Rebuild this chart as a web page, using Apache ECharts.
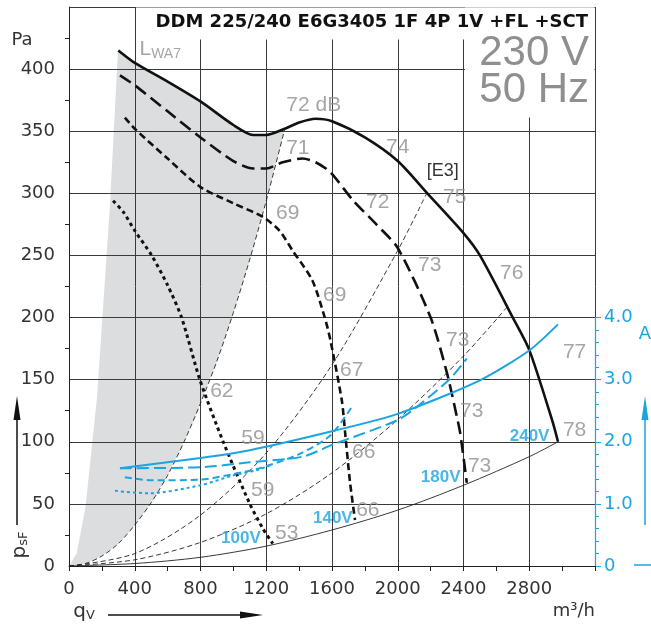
<!DOCTYPE html>
<html><head><meta charset="utf-8">
<script src="https://cdn.jsdelivr.net/npm/echarts@6/dist/echarts.min.js"></script>
<style>html,body{margin:0;padding:0;background:#fff}#c{width:651px;height:627px}</style>
</head><body><div id="c"></div>
<script>
// ---------- data ----------
const xTicks = [0, 400, 800, 1200, 1600, 2000, 2400, 2800];
const yTicks = [0, 50, 100, 150, 200, 250, 300, 350, 400];
const ampTicks = [0, 1.0, 2.0, 3.0, 4.0];

// fan curves p_sF [Pa] vs q_V [m3/h]
const curve240V = [[300,415],[400,405],[600,390],[800,374],[1000,355],[1120,347],[1200,347],[1313,352],[1400,357],[1500,360],[1600,358],[1800,345],[2000,326],[2180,300],[2400,268],[2500,250],[2700,200],[2800,174],[2940,117],[2975,100]];
const curve180V = [[310,395],[400,387],[600,366],[800,345],[1000,326],[1120,320],[1200,320],[1300,325],[1420,328],[1500,325],[1590,317],[1730,294],[1870,275],[2000,256],[2200,200],[2300,155],[2360,120],[2380,107],[2420,67]];
const curve140V = [[340,361],[400,352],[600,328],[800,305],[1000,292],[1180,281],[1280,270],[1360,254],[1480,230],[1556,200],[1590,182],[1660,133],[1680,107],[1710,67],[1740,37]];
const curve100V = [[268,294],[330,285],[400,270],[503,250],[600,226],[685,200],[796,150],[938,100],[1100,50],[1180,30],[1240,18]];

// current curves [A]
const amp240V = [[310,1.575],[800,1.74],[1100,1.865],[1600,2.17],[2000,2.45],[2500,2.99],[2800,3.47],[2975,3.89]];
const amp180V = [[310,1.575],[800,1.59],[1100,1.67],[1420,1.76],[1600,1.95],[2000,2.35],[2130,2.59],[2320,3.02],[2420,3.34]];
const amp140V = [[340,1.43],[500,1.38],[800,1.39],[1000,1.48],[1160,1.575],[1400,1.80],[1590,2.10],[1720,2.56]];
const amp100V = [[280,1.21],[490,1.17],[800,1.30],[1000,1.46],[1140,1.54],[1240,1.64]];

// system (throttle) curves
const sysA = [[0,0],[100,2],[200,8],[300,18],[400,33],[500,51],[600,73],[700,100],[800,131],[900,165],[1000,204],[1100,247],[1200,294],[1313,352]];
const sysB = [[0,0],[400,10],[800,41],[1200,91],[1600,162],[2000,254],[2176,300]];
const sysC = [[0,0],[400,5],[800,19],[1200,42],[1600,75],[2000,118],[2400,169],[2662,208]];
const sysD = [[0,0],[400,2],[800,7],[1200,16],[1600,29],[2000,45],[2400,65],[2800,88],[2975,100]];

// L_WA7 region left limit
const lwaEdge = [[0,0],[47,10],[100,47],[170,135],[249,290],[298,415]];

// sound level annotations [q, p, text]
const dbNotes = [
  [1489,371,'72 dB'],[1392,336,'71'],[1331,284,'69'],[930,141,'62'],[1119,103,'59'],[1179,61,'59'],[1325,26.5,'53'],
  [2000,337,'74'],[2347,297,'75'],[1878,293,'72'],[2195,242,'73'],[1617,218,'69'],[1720,158,'67'],
  [2693,236,'76'],[2365,182,'73'],[2450,125,'73'],[1793,92,'66'],[2498,80,'73'],[1818,45,'66'],
  [3076,172,'77'],[3076,109,'78']
];
const voltNotes = [[2802,104,'240V'],[2261,71.5,'180V'],[1605,38.6,'140V'],[1046,22.5,'100V']];

// ---------- chart ----------
const BLUE = '#1ba5e0';
const GRAY = '#8f8f8f';
const INK = '#222';
const chart = echarts.init(document.getElementById('c'), null, {renderer:'canvas'});

const G = {left:69, top:7, width:526, height:559};
const G2 = {left:69, top:7 + 559*5/9, width:526, height:559*4/9};

const grayPoly = lwaEdge.concat(curve240V.filter(p => p[0] > 300 && p[0] < 1313)).concat(sysA.slice().reverse());

function fan(data, dash, width) {
  return {type:'line', data, smooth:0.25, showSymbol:false, silent:true, z:5,
    lineStyle:{color:'#111', width:width||2.6, type:dash, cap:'butt'}};
}
function sys(data, dash) {
  return {type:'line', data, smooth:0.3, showSymbol:false, silent:true, z:3,
    lineStyle:{color:'#222', width:0.9, type:dash}};
}
function amp(data, dash) {
  return {type:'line', data, smooth:0.25, showSymbol:false, silent:true, z:6,
    xAxisIndex:1, yAxisIndex:1, lineStyle:{color:BLUE, width:2, type:dash, cap:'butt'}};
}

const option = {
  animation:false,
  grid:[Object.assign({}, G), Object.assign({}, G2)],
  xAxis:[{
    gridIndex:0, type:'value', min:0, max:3200, interval:400,
    axisLine:{show:true, onZero:false, lineStyle:{color:INK, width:1}},
    axisTick:{show:true, length:5, lineStyle:{color:INK}},
    minorTick:{show:true, splitNumber:2, length:5, lineStyle:{color:INK}},
    axisLabel:{fontFamily:'DejaVu Sans', fontSize:18, color:'#333', margin:14,
      formatter: v => xTicks.indexOf(v) >= 0 ? String(v) : ''},
    splitLine:{show:true, lineStyle:{color:'#3a3a3a', width:1}}
  },{
    gridIndex:1, type:'value', min:0, max:3200, show:false
  }],
  yAxis:[{
    gridIndex:0, type:'value', min:0, max:450, interval:50,
    axisLine:{show:true, onZero:false, lineStyle:{color:INK, width:1}},
    axisTick:{show:false},
    minorTick:{show:true, splitNumber:2, length:4, lineStyle:{color:INK}},
    axisLabel:{fontFamily:'DejaVu Sans', fontSize:18, color:'#333', margin:14,
      formatter: v => yTicks.indexOf(v) >= 0 ? String(v) : ''},
    splitLine:{show:true, lineStyle:{color:'#3a3a3a', width:1}}
  },{
    gridIndex:1, type:'value', min:0, max:4, interval:1, position:'right',
    axisLine:{show:true, onZero:false, lineStyle:{color:BLUE, width:1.2}},
    axisTick:{show:true, length:6, lineStyle:{color:BLUE}},
    minorTick:{show:true, splitNumber:5, length:4, lineStyle:{color:BLUE}},
    axisLabel:{fontFamily:'DejaVu Sans', fontSize:18, color:BLUE, margin:9,
      formatter: v => { const t = ampTicks.find(a => Math.abs(a - v) < 1e-6); return t === undefined ? '' : (t === 0 ? '0' : t.toFixed(1)); }},
    splitLine:{show:false}
  }],
  series:[
    {type:'custom', coordinateSystem:'cartesian2d', xAxisIndex:0, yAxisIndex:0, z:-1, silent:true,
      data:[[0,0]],
      renderItem:(params, api) => {
        const pts = grayPoly.map(p => api.coord(p));
        return {type:'polygon', shape:{points:pts}, style:{fill:'#dcdddf'}};
      }},
    sys(sysA, [5,3]), sys(sysB, [5,3]), sys(sysC, [5,3]), sys(sysD, 'solid'),
    fan(curve240V, 'solid', 2.6),
    fan(curve180V, [13,6], 2.6),
    fan(curve140V, [7,4], 2.6),
    fan(curve100V, [3.5,3.5], 3),
    amp(amp240V, 'solid'),
    amp(amp180V, [12,5]),
    amp(amp140V, [7,4]),
    amp(amp100V, [3,3]),
    {type:'scatter', data:dbNotes.map(d => ({value:[d[0],d[1]], name:d[2]})), symbolSize:0, silent:true, z:7,
      label:{show:true, position:'inside', formatter: p => p.name, color:GRAY, fontSize:21,
        fontFamily:'"Liberation Sans Narrow","Liberation Sans",sans-serif'}},
    {type:'scatter', data:voltNotes.map(d => ({value:[d[0],d[1]], name:d[2]})), symbolSize:0, silent:true, z:7,
      label:{show:true, position:'inside', formatter: p => p.name, color:BLUE, fontSize:17, fontWeight:'bold',
        fontFamily:'"Liberation Sans Narrow","Liberation Sans",sans-serif'}},
    {type:'scatter', data:[{value:[555,416], name:'LWA7'}], symbolSize:0, silent:true, z:7,
      label:{show:true, position:'inside', formatter:'{a|L}{b|WA7}',
        rich:{a:{color:GRAY, fontSize:21, fontFamily:'"Liberation Sans Narrow","Liberation Sans"'},
              b:{color:GRAY, fontSize:14, fontFamily:'"Liberation Sans Narrow","Liberation Sans"', padding:[10,0,0,0]}}}},
    {type:'scatter', data:[{value:[2274,318], name:'[E3]'}], symbolSize:0, silent:true, z:7,
      label:{show:true, position:'inside', formatter:'[E3]', color:'#000', fontSize:18,
        fontFamily:'"Liberation Sans Narrow","Liberation Sans",sans-serif'}}
  ],
  graphic:[
    {type:'rect', z:100, shape:{x:136, y:7.5, width:458.5, height:32}, style:{fill:'#fff'}},
    {type:'rect', z:100, shape:{x:465, y:7.5, width:129.5, height:110}, style:{fill:'#fff'}},
    {type:'text', z:101, x:588, y:22, style:{text:'DDM 225/240 E6G3405 1F 4P 1V +FL +SCT', fontFamily:'DejaVu Sans', fontWeight:'bold', fontSize:18, fill:'#111', align:'right', verticalAlign:'middle'}},
    {type:'text', z:101, x:589, y:53, style:{text:'230 V', fontFamily:'Liberation Sans', fontSize:42, fill:GRAY, align:'right', verticalAlign:'middle'}},
    {type:'text', z:101, x:589, y:90, style:{text:'50 Hz', fontFamily:'Liberation Sans', fontSize:42, fill:GRAY, align:'right', verticalAlign:'middle'}},
    {type:'text', z:101, x:22, y:40, style:{text:'Pa', fontFamily:'DejaVu Sans', fontSize:18, fill:'#333', align:'center', verticalAlign:'middle'}},
    {type:'text', z:101, x:20, y:545, rotation:Math.PI/2, style:{text:'{p|p}{s|sF}', align:'center', verticalAlign:'middle',
      rich:{p:{fontFamily:'DejaVu Sans', fontSize:20, fill:'#333'}, s:{fontFamily:'DejaVu Sans', fontSize:13, fill:'#333', padding:[8,0,0,0]}}}},
    {type:'line', z:101, shape:{x1:17, y1:525, x2:17, y2:410}, style:{stroke:'#111', lineWidth:1.5}},
    {type:'polygon', z:101, shape:{points:[[17,396],[13.5,420],[20.5,420]]}, style:{fill:'#111'}},
    {type:'text', z:101, x:84, y:612, style:{text:'{p|q}{s|V}', align:'center', verticalAlign:'middle',
      rich:{p:{fontFamily:'DejaVu Sans', fontSize:20, fill:'#333'}, s:{fontFamily:'DejaVu Sans', fontSize:13, fill:'#333', padding:[8,0,0,0]}}}},
    {type:'line', z:101, shape:{x1:108, y1:615, x2:245, y2:615}, style:{stroke:'#111', lineWidth:1.5}},
    {type:'polygon', z:101, shape:{points:[[263,615],[240,611.5],[240,618.5]]}, style:{fill:'#111'}},
    {type:'text', z:101, x:595, y:611, style:{text:'m³/h', fontFamily:'DejaVu Sans', fontSize:18, fill:'#333', align:'right', verticalAlign:'middle'}},
    {type:'text', z:101, x:645, y:334, style:{text:'A', fontFamily:'DejaVu Sans', fontSize:18, fill:BLUE, align:'center', verticalAlign:'middle'}},
    {type:'line', z:101, shape:{x1:645, y1:525, x2:645, y2:410}, style:{stroke:BLUE, lineWidth:1.5}},
    {type:'polygon', z:101, shape:{points:[[645,396],[641.5,420],[648.5,420]]}, style:{fill:BLUE}},
    {type:'line', z:101, shape:{x1:634, y1:565, x2:651, y2:565}, style:{stroke:BLUE, lineWidth:1.5}}
  ]
};
chart.setOption(option);
</script>
</body></html>
